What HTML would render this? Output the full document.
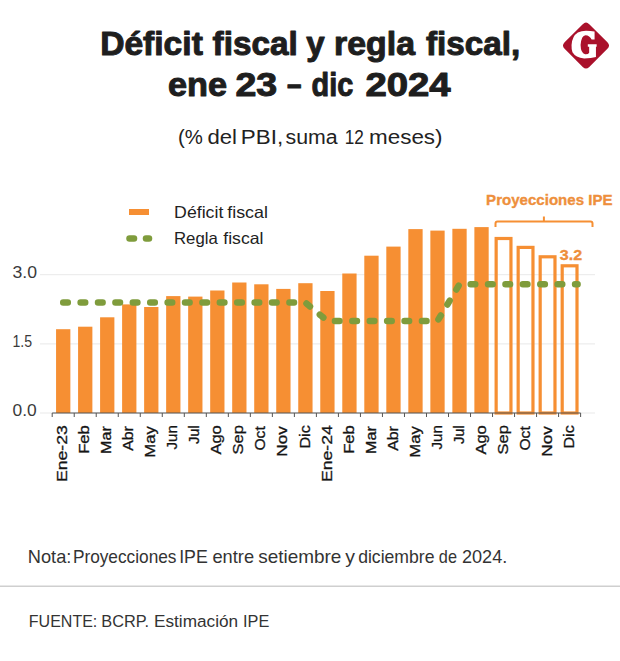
<!DOCTYPE html>
<html><head><meta charset="utf-8"><style>
html,body{margin:0;padding:0;background:#fff;}
body{width:620px;height:661px;position:relative;overflow:hidden;}
svg{position:absolute;left:0;top:0;}
text{font-family:"Liberation Sans",sans-serif;}
</style></head><body>
<svg width="620" height="661" viewBox="0 0 620 661">
<g stroke="#e9e9e9" stroke-width="1">
<line x1="40" y1="274.7" x2="595" y2="274.7"/>
<line x1="40" y1="343.9" x2="595" y2="343.9"/>
<line x1="40" y1="413" x2="595" y2="413"/>
</g>
<g fill="#3a3a3a">
<text id="y30" x="12.45" y="278.40" font-size="16" textLength="24.51" lengthAdjust="spacingAndGlyphs" >3.0</text>
<text id="y15" x="12.48" y="347.10" font-size="16" textLength="19.61" lengthAdjust="spacingAndGlyphs" >1.5</text>
<text id="y00" x="12.63" y="416.30" font-size="16" textLength="24.17" lengthAdjust="spacingAndGlyphs" >0.0</text>
</g>
<rect x="56.06" y="329.20" width="14.3" height="83.80" fill="#f68f33"/><rect x="78.08" y="326.70" width="14.3" height="86.30" fill="#f68f33"/><rect x="100.09" y="317.30" width="14.3" height="95.70" fill="#f68f33"/><rect x="122.11" y="304.40" width="14.3" height="108.60" fill="#f68f33"/><rect x="144.13" y="307.00" width="14.3" height="106.00" fill="#f68f33"/><rect x="166.14" y="296.10" width="14.3" height="116.90" fill="#f68f33"/><rect x="188.16" y="296.60" width="14.3" height="116.40" fill="#f68f33"/><rect x="210.18" y="290.50" width="14.3" height="122.50" fill="#f68f33"/><rect x="232.19" y="282.50" width="14.3" height="130.50" fill="#f68f33"/><rect x="254.21" y="284.30" width="14.3" height="128.70" fill="#f68f33"/><rect x="276.23" y="288.90" width="14.3" height="124.10" fill="#f68f33"/><rect x="298.25" y="283.20" width="14.3" height="129.80" fill="#f68f33"/><rect x="320.26" y="291.00" width="14.3" height="122.00" fill="#f68f33"/><rect x="342.28" y="273.50" width="14.3" height="139.50" fill="#f68f33"/><rect x="364.30" y="255.70" width="14.3" height="157.30" fill="#f68f33"/><rect x="386.31" y="246.60" width="14.3" height="166.40" fill="#f68f33"/><rect x="408.33" y="229.10" width="14.3" height="183.90" fill="#f68f33"/><rect x="430.35" y="230.60" width="14.3" height="182.40" fill="#f68f33"/><rect x="452.36" y="228.80" width="14.3" height="184.20" fill="#f68f33"/><rect x="474.38" y="227.10" width="14.3" height="185.90" fill="#f68f33"/><rect x="496.15" y="238.50" width="14.80" height="174.50" fill="none" stroke="#f68f33" stroke-width="3.2"/><rect x="518.17" y="247.40" width="14.80" height="165.60" fill="none" stroke="#f68f33" stroke-width="3.2"/><rect x="540.18" y="256.80" width="14.80" height="156.20" fill="none" stroke="#f68f33" stroke-width="3.2"/><rect x="562.20" y="265.80" width="14.80" height="147.20" fill="none" stroke="#f68f33" stroke-width="3.2"/>
<line x1="52.2" y1="413.0" x2="580.6080000000001" y2="413.0" stroke="#555" stroke-width="1"/>
<line x1="52.20" y1="413.0" x2="52.20" y2="417.0" stroke="#555" stroke-width="1"/><line x1="74.22" y1="413.0" x2="74.22" y2="417.0" stroke="#555" stroke-width="1"/><line x1="96.23" y1="413.0" x2="96.23" y2="417.0" stroke="#555" stroke-width="1"/><line x1="118.25" y1="413.0" x2="118.25" y2="417.0" stroke="#555" stroke-width="1"/><line x1="140.27" y1="413.0" x2="140.27" y2="417.0" stroke="#555" stroke-width="1"/><line x1="162.28" y1="413.0" x2="162.28" y2="417.0" stroke="#555" stroke-width="1"/><line x1="184.30" y1="413.0" x2="184.30" y2="417.0" stroke="#555" stroke-width="1"/><line x1="206.32" y1="413.0" x2="206.32" y2="417.0" stroke="#555" stroke-width="1"/><line x1="228.34" y1="413.0" x2="228.34" y2="417.0" stroke="#555" stroke-width="1"/><line x1="250.35" y1="413.0" x2="250.35" y2="417.0" stroke="#555" stroke-width="1"/><line x1="272.37" y1="413.0" x2="272.37" y2="417.0" stroke="#555" stroke-width="1"/><line x1="294.39" y1="413.0" x2="294.39" y2="417.0" stroke="#555" stroke-width="1"/><line x1="316.40" y1="413.0" x2="316.40" y2="417.0" stroke="#555" stroke-width="1"/><line x1="338.42" y1="413.0" x2="338.42" y2="417.0" stroke="#555" stroke-width="1"/><line x1="360.44" y1="413.0" x2="360.44" y2="417.0" stroke="#555" stroke-width="1"/><line x1="382.45" y1="413.0" x2="382.45" y2="417.0" stroke="#555" stroke-width="1"/><line x1="404.47" y1="413.0" x2="404.47" y2="417.0" stroke="#555" stroke-width="1"/><line x1="426.49" y1="413.0" x2="426.49" y2="417.0" stroke="#555" stroke-width="1"/><line x1="448.51" y1="413.0" x2="448.51" y2="417.0" stroke="#555" stroke-width="1"/><line x1="470.52" y1="413.0" x2="470.52" y2="417.0" stroke="#555" stroke-width="1"/><line x1="492.54" y1="413.0" x2="492.54" y2="417.0" stroke="#555" stroke-width="1"/><line x1="514.56" y1="413.0" x2="514.56" y2="417.0" stroke="#555" stroke-width="1"/><line x1="536.57" y1="413.0" x2="536.57" y2="417.0" stroke="#555" stroke-width="1"/><line x1="558.59" y1="413.0" x2="558.59" y2="417.0" stroke="#555" stroke-width="1"/><line x1="580.61" y1="413.0" x2="580.61" y2="417.0" stroke="#555" stroke-width="1"/>
<path d="M63.21,302.6 L305.40,302.6 L327.41,321 L437.50,321 L459.51,284.2 L577.60,284.2" fill="none" stroke="#7f9c3c" stroke-width="6.5" stroke-linecap="round" stroke-dasharray="4.6 12.8"/>
<g fill="#151515" stroke="#151515" stroke-width="0.3" font-size="15.2"><text id="lab0" transform="translate(67.31,425.20) rotate(-90)" text-anchor="end" textLength="56.80" lengthAdjust="spacingAndGlyphs">Ene-23</text><text id="lab1" transform="translate(89.33,425.20) rotate(-90)" text-anchor="end" textLength="28.60" lengthAdjust="spacingAndGlyphs">Feb</text><text id="lab2" transform="translate(111.34,426.20) rotate(-90)" text-anchor="end" textLength="27.80" lengthAdjust="spacingAndGlyphs">Mar</text><text id="lab3" transform="translate(133.36,426.20) rotate(-90)" text-anchor="end" textLength="24.60" lengthAdjust="spacingAndGlyphs">Abr</text><text id="lab4" transform="translate(155.38,426.20) rotate(-90)" text-anchor="end" textLength="31.60" lengthAdjust="spacingAndGlyphs">May</text><text id="lab5" transform="translate(177.39,425.20) rotate(-90)" text-anchor="end" textLength="24.40" lengthAdjust="spacingAndGlyphs">Jun</text><text id="lab6" transform="translate(199.41,425.20) rotate(-90)" text-anchor="end" textLength="18.80" lengthAdjust="spacingAndGlyphs">Jul</text><text id="lab7" transform="translate(221.43,425.20) rotate(-90)" text-anchor="end" textLength="29.40" lengthAdjust="spacingAndGlyphs">Ago</text><text id="lab8" transform="translate(243.44,425.20) rotate(-90)" text-anchor="end" textLength="29.20" lengthAdjust="spacingAndGlyphs">Sep</text><text id="lab9" transform="translate(265.46,426.20) rotate(-90)" text-anchor="end" textLength="24.40" lengthAdjust="spacingAndGlyphs">Oct</text><text id="lab10" transform="translate(287.48,426.20) rotate(-90)" text-anchor="end" textLength="30.60" lengthAdjust="spacingAndGlyphs">Nov</text><text id="lab11" transform="translate(309.50,425.20) rotate(-90)" text-anchor="end" textLength="23.40" lengthAdjust="spacingAndGlyphs">Dic</text><text id="lab12" transform="translate(331.51,425.20) rotate(-90)" text-anchor="end" textLength="56.80" lengthAdjust="spacingAndGlyphs">Ene-24</text><text id="lab13" transform="translate(353.53,425.20) rotate(-90)" text-anchor="end" textLength="28.60" lengthAdjust="spacingAndGlyphs">Feb</text><text id="lab14" transform="translate(375.55,426.20) rotate(-90)" text-anchor="end" textLength="27.80" lengthAdjust="spacingAndGlyphs">Mar</text><text id="lab15" transform="translate(397.56,426.20) rotate(-90)" text-anchor="end" textLength="24.60" lengthAdjust="spacingAndGlyphs">Abr</text><text id="lab16" transform="translate(419.58,426.20) rotate(-90)" text-anchor="end" textLength="31.60" lengthAdjust="spacingAndGlyphs">May</text><text id="lab17" transform="translate(441.60,425.20) rotate(-90)" text-anchor="end" textLength="24.40" lengthAdjust="spacingAndGlyphs">Jun</text><text id="lab18" transform="translate(463.61,425.20) rotate(-90)" text-anchor="end" textLength="18.80" lengthAdjust="spacingAndGlyphs">Jul</text><text id="lab19" transform="translate(485.63,425.20) rotate(-90)" text-anchor="end" textLength="29.40" lengthAdjust="spacingAndGlyphs">Ago</text><text id="lab20" transform="translate(507.65,425.20) rotate(-90)" text-anchor="end" textLength="29.20" lengthAdjust="spacingAndGlyphs">Sep</text><text id="lab21" transform="translate(529.67,426.20) rotate(-90)" text-anchor="end" textLength="24.40" lengthAdjust="spacingAndGlyphs">Oct</text><text id="lab22" transform="translate(551.68,426.20) rotate(-90)" text-anchor="end" textLength="30.60" lengthAdjust="spacingAndGlyphs">Nov</text><text id="lab23" transform="translate(573.70,425.20) rotate(-90)" text-anchor="end" textLength="23.40" lengthAdjust="spacingAndGlyphs">Dic</text></g>
<rect x="129" y="209" width="20" height="6" fill="#f68f33"/>
<line x1="129.5" y1="238.5" x2="134" y2="238.5" stroke="#7f9c3c" stroke-width="6.5" stroke-linecap="round"/>
<line x1="146" y1="238.5" x2="149" y2="238.5" stroke="#7f9c3c" stroke-width="6.5" stroke-linecap="round"/>
<g fill="#222">
<text id="l1w0" x="174.11" y="217.90" font-size="16.5" textLength="49.19" lengthAdjust="spacingAndGlyphs" >Déficit</text><text id="l1w1" x="227.26" y="217.90" font-size="16.5" textLength="40.63" lengthAdjust="spacingAndGlyphs" >fiscal</text><text id="l2w0" x="174.01" y="244.00" font-size="16.5" textLength="43.85" lengthAdjust="spacingAndGlyphs" >Regla</text><text id="l2w1" x="223.27" y="244.00" font-size="16.5" textLength="40.13" lengthAdjust="spacingAndGlyphs" >fiscal</text>
</g>
<g fill="#ee8f3c" font-weight="bold" stroke="#ee8f3c" stroke-width="0.35">
<text id="proy" x="486.14" y="204.90" font-size="15" textLength="126.38" lengthAdjust="spacingAndGlyphs" >Proyecciones IPE</text>
<text id="v32" x="559.79" y="259.70" font-size="15.4" textLength="22.31" lengthAdjust="spacingAndGlyphs" >3.2</text>
</g>
<path d="M495.5,227 L495.5,223.5 Q495.5,221.5 497.5,221.5 L590.5,221.5 Q592.5,221.5 592.5,223.5 L592.5,227 M543.9,221.5 L543.9,216.6" fill="none" stroke="#f68f33" stroke-width="2"/>
<g fill="#1e1e1e" font-weight="bold" stroke="#1e1e1e" stroke-width="1.0" stroke-linejoin="round">
<text id="t1w1" x="100.15" y="54.50" font-size="32.5" textLength="102.68" lengthAdjust="spacingAndGlyphs" >Déficit</text><text id="t1w2" x="212.59" y="54.50" font-size="32.5" textLength="85.10" lengthAdjust="spacingAndGlyphs" >fiscal</text><text id="t1w3" x="306.30" y="54.50" font-size="32.5" textLength="18.37" lengthAdjust="spacingAndGlyphs" >y</text><text id="t1w4" x="334.13" y="54.50" font-size="32.5" textLength="80.84" lengthAdjust="spacingAndGlyphs" >regla</text><text id="t1w5" x="426.07" y="54.50" font-size="32.5" textLength="94.17" lengthAdjust="spacingAndGlyphs" >fiscal,</text><text id="t2w1" x="168.07" y="95.60" font-size="32.5" textLength="59.05" lengthAdjust="spacingAndGlyphs" >ene</text><text id="t2w2" x="235.40" y="95.60" font-size="32.5" textLength="41.77" lengthAdjust="spacingAndGlyphs" >23</text><text id="t2w3" x="286.91" y="95.40" font-size="32.5" textLength="14.48" lengthAdjust="spacingAndGlyphs" >–</text><text id="t2w4" x="311.47" y="95.60" font-size="32.5" textLength="41.79" lengthAdjust="spacingAndGlyphs" >dic</text><text id="t2w5" x="365.41" y="95.60" font-size="32.5" textLength="85.30" lengthAdjust="spacingAndGlyphs" >2024</text>
</g>
<g fill="#222">
<text id="sw0" x="178.02" y="144.40" font-size="19.5" textLength="24.86" lengthAdjust="spacingAndGlyphs" >(%</text><text id="sw1" x="207.41" y="144.40" font-size="19.5" textLength="29.50" lengthAdjust="spacingAndGlyphs" >del</text><text id="sw2" x="240.83" y="144.40" font-size="19.5" textLength="42.28" lengthAdjust="spacingAndGlyphs" >PBI,</text><text id="sw3" x="285.58" y="144.40" font-size="19.5" textLength="52.12" lengthAdjust="spacingAndGlyphs" >suma</text><text id="sw4" x="344.81" y="144.40" font-size="19.5" textLength="19.12" lengthAdjust="spacingAndGlyphs" >12</text><text id="sw5" x="369.06" y="144.40" font-size="19.5" textLength="73.47" lengthAdjust="spacingAndGlyphs" >meses)</text>
</g>
<g transform="translate(558,18) scale(0.09033)">
<path d="M310,50 Q328,50 346,68 L547,269 Q565,287 565,305 Q565,323 547,341 L346,542 Q328,560 310,560 Q292,560 274,542 L73,341 Q55,323 55,305 Q55,287 73,269 L274,68 Q292,50 310,50 Z" fill="#aa112b"/>
<path d="M405,150 L405,238 L372,238 Q350,195 305,192 Q258,195 250,300 Q252,392 300,402 Q335,405 345,385 L345,318 L330,318 L330,290 L428,290 L428,318 L420,318 L420,432 Q370,448 290,448 Q195,440 160,380 Q148,340 150,300 Q155,200 220,160 Q260,140 310,140 Q360,140 405,150 Z" fill="#fff"/>
</g>
<line x1="0" y1="586.2" x2="620" y2="586.2" stroke="#cfcfcf" stroke-width="1.5"/>
<g fill="#333">
<text id="nw0" x="27.80" y="563.00" font-size="17.8" textLength="43.56" lengthAdjust="spacingAndGlyphs" >Nota:</text><text id="nw1" x="72.88" y="563.00" font-size="17.8" textLength="103.64" lengthAdjust="spacingAndGlyphs" >Proyecciones</text><text id="nw2" x="179.13" y="563.00" font-size="17.8" textLength="28.63" lengthAdjust="spacingAndGlyphs" >IPE</text><text id="nw3" x="212.45" y="563.00" font-size="17.8" textLength="41.59" lengthAdjust="spacingAndGlyphs" >entre</text><text id="nw4" x="258.21" y="563.00" font-size="17.8" textLength="83.13" lengthAdjust="spacingAndGlyphs" >setiembre</text><text id="nw5" x="345.17" y="563.00" font-size="17.8" textLength="9.73" lengthAdjust="spacingAndGlyphs" >y</text><text id="nw6" x="358.13" y="563.00" font-size="17.8" textLength="76.34" lengthAdjust="spacingAndGlyphs" >diciembre</text><text id="nw7" x="438.86" y="563.00" font-size="17.8" textLength="18.12" lengthAdjust="spacingAndGlyphs" >de</text><text id="nw8" x="461.98" y="563.00" font-size="17.8" textLength="45.30" lengthAdjust="spacingAndGlyphs" >2024.</text><text id="fw0" x="28.79" y="627.00" font-size="17.4" textLength="68.55" lengthAdjust="spacingAndGlyphs" >FUENTE:</text><text id="fw1" x="101.25" y="627.00" font-size="17.4" textLength="47.77" lengthAdjust="spacingAndGlyphs" >BCRP.</text><text id="fw2" x="154.02" y="627.00" font-size="17.4" textLength="84.11" lengthAdjust="spacingAndGlyphs" >Estimación</text><text id="fw3" x="243.02" y="627.00" font-size="17.4" textLength="26.24" lengthAdjust="spacingAndGlyphs" >IPE</text>
</g>
</svg>
</body></html>
